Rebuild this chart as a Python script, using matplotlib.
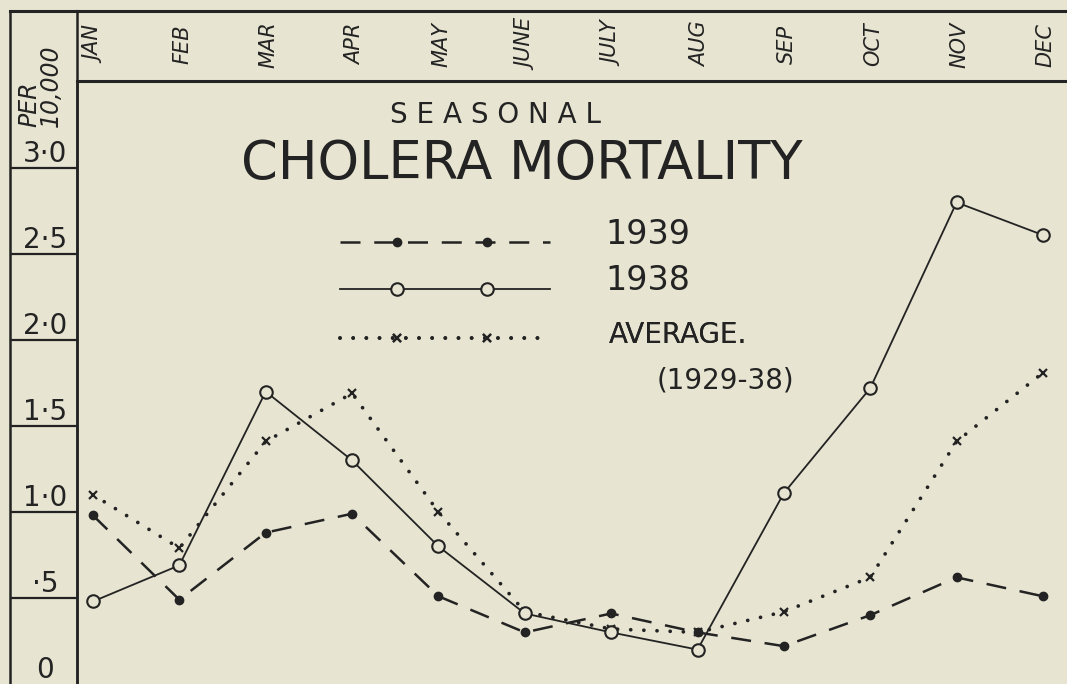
import matplotlib.pyplot as plt
import numpy as np
from matplotlib.legend_handler import HandlerLine2D
from matplotlib.lines import Line2D
from matplotlib.transforms import blended_transform_factory

# deaths per 10,000
months = ['JAN', 'FEB', 'MAR', 'APR', 'MAY', 'JUNE', 'JULY', 'AUG', 'SEP', 'OCT', 'NOV', 'DEC']
rate_1939 = [0.98, 0.49, 0.88, 0.99, 0.51, 0.30, 0.41, 0.30, 0.22, 0.40, 0.62, 0.51]
rate_1938 = [0.48, 0.69, 1.70, 1.30, 0.80, 0.41, 0.30, 0.20, 1.11, 1.72, 2.80, 2.61]
rate_avg = [1.10, 0.79, 1.41, 1.69, 1.00, 0.42, 0.32, 0.30, 0.42, 0.62, 1.41, 1.81]
scale_vals = [0, 0.5, 1.0, 1.5, 2.0, 2.5, 3.0]
scale_labels = ['0', '\u00b75', '1\u00b70', '1\u00b75', '2\u00b70', '2\u00b75', '3\u00b70']

paper = '#e7e4d1'
ink = '#232323'
W, H = 1067, 684
px_per_unit = 172.0
month_step = 86.36

plt.rcParams['font.family'] = ['DejaVu Sans']
fig = plt.figure(figsize=(W / 100, H / 100), dpi=100, facecolor=paper)

# main plotting area
ax = fig.add_axes([77 / W, 0, 990 / W, 603 / H])
ax.set_facecolor('none')
ax.set_xlim((77 - 93) / month_step, (1067 - 93) / month_step)
ax.set_ylim(0, 603 / px_per_unit)
ax.set_xticks([])
ax.set_yticks([])
ax.spines[['right', 'bottom', 'top']].set_visible(False)
ax.spines['left'].set_linewidth(1.8)
ax.spines['left'].set_color(ink)

x = np.arange(len(months))
l39, = ax.plot(x, rate_1939, color=ink, lw=1.8, ls=(0, (8, 5.5)),
               marker='o', ms=6, mfc=ink, mec=ink, label='1939', zorder=3)
l38, = ax.plot(x, rate_1938, color=ink, lw=1.3, ls='-',
               marker='o', ms=9, mfc=paper, mec=ink, mew=1.5, label='1938', zorder=4)
lav, = ax.plot(x, rate_avg, color=ink, lw=2.7, ls=(0, (0.01, 3.5)),
               dash_capstyle='round', marker='x', ms=6, mew=1.6, mec=ink,
               label='AVERAGE.', zorder=3)

# month header strip
axm = fig.add_axes([77 / W, 603 / H, 990 / W, 70 / H], sharex=ax)
axm.set_facecolor('none')
axm.set_ylim(0, 1)
axm.tick_params(left=False, bottom=False, labelleft=False, labelbottom=False)
axm.spines[['right', 'left']].set_visible(False)
axm.spines['top'].set_linewidth(2.2)
axm.spines['bottom'].set_linewidth(2.2)
for s in axm.spines.values():
    s.set_color(ink)
tr = blended_transform_factory(axm.transData, axm.transAxes)
for i, m in enumerate(months):
    axm.text(i + 0.03, 0.52, m, transform=tr, rotation=90, ha='center', va='center',
             fontsize=15, fontstyle='italic', color=ink)

# left scale column
axl = fig.add_axes([10 / W, 0, 67 / W, 673 / H])
axl.set_facecolor('none')
axl.set_xlim(0, 1)
axl.set_ylim(0, 673 / px_per_unit)
axl.set_xticks([])
axl.set_yticks([])
axl.spines['bottom'].set_visible(False)
axl.spines['top'].set_linewidth(2.2)
axl.spines['left'].set_linewidth(1.8)
axl.spines['right'].set_linewidth(1.8)
for s in axl.spines.values():
    s.set_color(ink)
axl.hlines(scale_vals[1:], 0, 1, color=ink, lw=1.6)
for v, lab in zip(scale_vals, scale_labels):
    axl.text(0.52, v + 0.08, lab, ha='center', va='center', fontsize=20, color=ink)
axl.text(0.45, (684 - 127) / px_per_unit, 'PER\n10,000', rotation=90, ha='center',
         va='bottom', multialignment='left', linespacing=0.85, fontsize=17,
         fontstyle='italic', color=ink)

# title
fig.text(495 / W, 1 - 115 / H, 'S E A S O N A L', ha='center', va='center',
         fontsize=20, color=ink)
fig.text(522 / W, 1 - 164 / H, 'CHOLERA MORTALITY', ha='center', va='center',
         fontsize=38, color=ink)


class SampleLine(HandlerLine2D):
    # full-length key line, two markers set in from the ends, line sits low
    def __init__(self, drop, **kw):
        super().__init__(**kw)
        self.drop = drop

    def create_artists(self, legend, orig_handle, xdescent, ydescent, width, height,
                       fontsize, trans):
        y = (height - ydescent) / 2 - self.drop
        x0 = -xdescent
        line = Line2D([x0, x0 + width], [y, y])
        self.update_prop(line, orig_handle, legend)
        line.set_marker('None')
        pts = Line2D([x0 + 0.27 * width, x0 + 0.70 * width], [y, y])
        self.update_prop(pts, orig_handle, legend)
        pts.set_linestyle('None')
        line.set_transform(trans)
        pts.set_transform(trans)
        return [line, pts]


def key(handle, label, y_px, size, drop_px, pad_px):
    leg = ax.legend(handles=[handle], labels=[label], loc='center left',
                    bbox_to_anchor=(340 / W, 1 - y_px / H), bbox_transform=fig.transFigure,
                    frameon=False, fontsize=size, handlelength=151 / size,
                    handletextpad=pad_px * 0.72 / size, borderpad=0, borderaxespad=0,
                    handler_map={handle: SampleLine(drop_px * 0.72)})
    leg.get_texts()[0].set_color(ink)
    ax.add_artist(leg)


key(l39, '1939', 234.5, 24, 9.5, 56)
key(l38, '1938', 280.5, 24, 10.5, 56)
key(lav, 'AVERAGE.', 335, 20, 5, 59)
fig.text(725 / W, 1 - 381 / H, '(1929-38)', ha='center', va='center',
         fontsize=20, color=ink)

fig.savefig('out.png', dpi=100, facecolor=paper)
